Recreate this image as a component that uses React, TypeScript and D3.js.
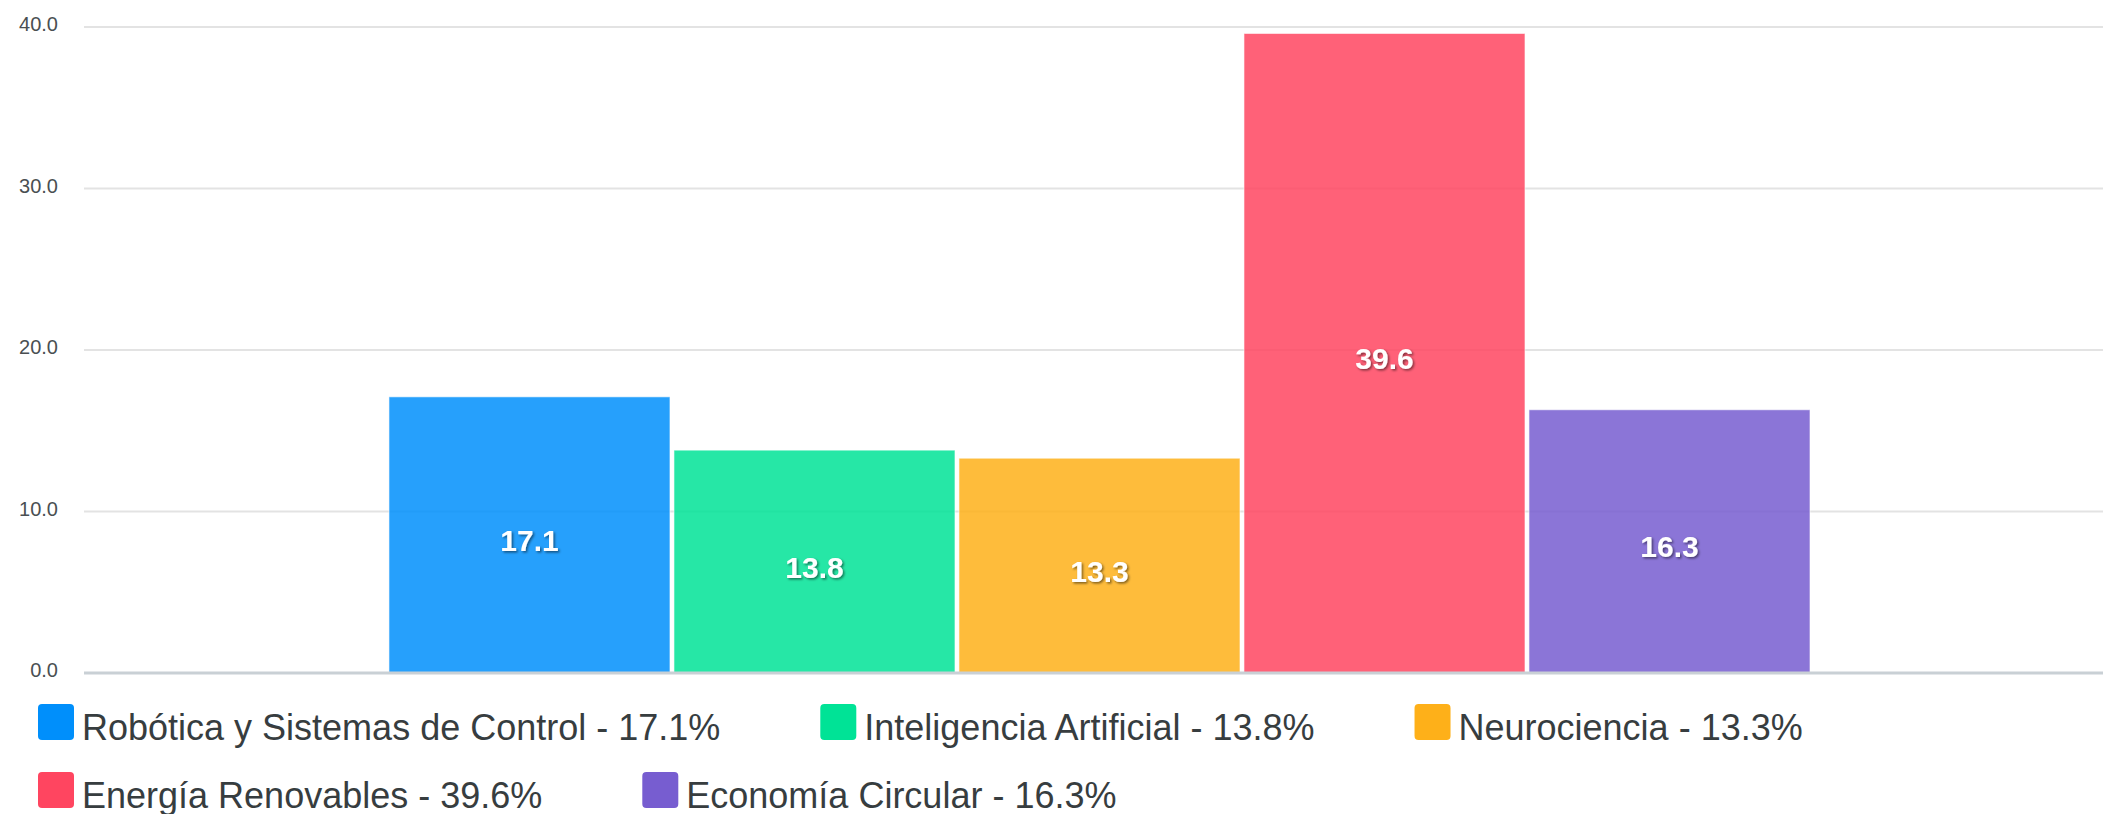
import React, { useEffect, useRef } from 'react';
import * as d3 from 'd3';

const seriesNames = [
  'Robótica y Sistemas de Control',
  'Inteligencia Artificial',
  'Neurociencia',
  'Energía Renovables',
  'Economía Circular',
];
const seriesValues = [17.1, 13.8, 13.3, 39.6, 16.3];
const seriesColors = ['#008FFB', '#00E396', '#FEB019', '#FF4560', '#775DD0'];
const yTicks = [0, 10, 20, 30, 40];

const W = 2103;
const H = 814;

const BarChart = () => {
  const ref = useRef(null);

  const drawChart = () => {
    const root = d3.select(ref.current);
    root.selectAll('*').remove();

    const margin = { top: 27, right: 0, bottom: 141, left: 84 };
    const plotW = W - margin.left - margin.right;
    const plotH = H - margin.top - margin.bottom;

    const svg = root
      .append('svg')
      .attr('width', W)
      .attr('height', H)
      .style('display', 'block')
      .style('font-family', "'Liberation Sans', Arial, Helvetica, sans-serif");

    const defs = svg.append('defs');
    const filter = defs.append('filter').attr('id', 'lblShadow').attr('x', '-20%').attr('y', '-20%').attr('width', '140%').attr('height', '160%');
    filter
      .append('feDropShadow')
      .attr('dx', 1.5)
      .attr('dy', 1.5)
      .attr('stdDeviation', 1.2)
      .attr('flood-color', '#000')
      .attr('flood-opacity', 0.5);

    const g = svg.append('g').attr('transform', `translate(${margin.left},${margin.top})`);

    const y = d3.scaleLinear().domain([0, 40]).range([plotH, 0]);

    // one group, five series side by side
    const x0 = d3.scaleBand().domain(['g']).range([0, plotW]).paddingOuter(0.2104).align(0.51);
    const x1 = d3.scaleBand().domain(seriesNames).range([0, x0.bandwidth()]).paddingInner(0.014);

    // grid
    g.selectAll('.grid')
      .data(yTicks.filter((t) => t !== 0))
      .enter()
      .append('line')
      .attr('x1', 0)
      .attr('x2', plotW)
      .attr('y1', (d) => y(d))
      .attr('y2', (d) => y(d))
      .attr('stroke', '#e3e3e3')
      .attr('stroke-width', 2);

    // y labels
    g.selectAll('.ylabel')
      .data(yTicks)
      .enter()
      .append('text')
      .attr('x', -26)
      .attr('y', (d) => y(d) + 4)
      .attr('text-anchor', 'end')
      .style('font-size', '20px')
      .style('fill', '#4a4f52')
      .text((d) => d3.format('.1f')(d));

    // bars
    const bars = g.append('g').attr('transform', `translate(${x0('g')},0)`);
    bars
      .selectAll('rect')
      .data(seriesValues)
      .enter()
      .append('rect')
      .attr('x', (d, i) => x1(seriesNames[i]))
      .attr('y', (d) => y(d))
      .attr('width', x1.bandwidth())
      .attr('height', (d) => y(0) - y(d))
      .attr('fill', (d, i) => seriesColors[i])
      .attr('fill-opacity', 0.85)
      .attr('stroke', '#ffffff')
      .attr('stroke-opacity', 0.6)
      .attr('stroke-width', 1);

    // baseline
    g.append('line')
      .attr('x1', 0)
      .attr('x2', plotW)
      .attr('y1', y(0))
      .attr('y2', y(0))
      .attr('stroke', '#c9d0d5')
      .attr('stroke-width', 3);

    // data labels
    bars
      .selectAll('.dlabel')
      .data(seriesValues)
      .enter()
      .append('text')
      .attr('x', (d, i) => x1(seriesNames[i]) + x1.bandwidth() / 2)
      .attr('y', (d) => (y(d) + y(0)) / 2 + 16)
      .attr('text-anchor', 'middle')
      .attr('filter', 'url(#lblShadow)')
      .style('font-size', '30px')
      .style('font-weight', 'bold')
      .style('fill', '#ffffff')
      .text((d) => d.toFixed(1));

    // legend, wraps like html flow
    const legend = svg.append('g');
    let lx = 38;
    let row = 0;
    seriesNames.forEach((name, i) => {
      const item = legend.append('g');
      const txt = item
        .append('text')
        .attr('x', 44)
        .attr('y', 36)
        .style('font-size', '36px')
        .style('fill', '#373d3f')
        .text(`${name} - ${seriesValues[i].toFixed(1)}%`);
      const tw = txt.node().getComputedTextLength();
      const itemW = 44 + tw;
      if (lx + itemW > W && lx > 38) {
        row += 1;
        lx = 38;
      }
      item
        .insert('rect', 'text')
        .attr('width', 36)
        .attr('height', 36)
        .attr('rx', 4)
        .attr('fill', seriesColors[i]);
      item.attr('transform', `translate(${lx},${704 + row * 68})`);
      lx += itemW + 100;
    });
  };

  useEffect(() => {
    document.body.style.margin = '0';
    drawChart();
  }, []);

  return <div ref={ref} style={{ width: W, height: H }}></div>;
};

export default function App() {
  return <BarChart />;
}
